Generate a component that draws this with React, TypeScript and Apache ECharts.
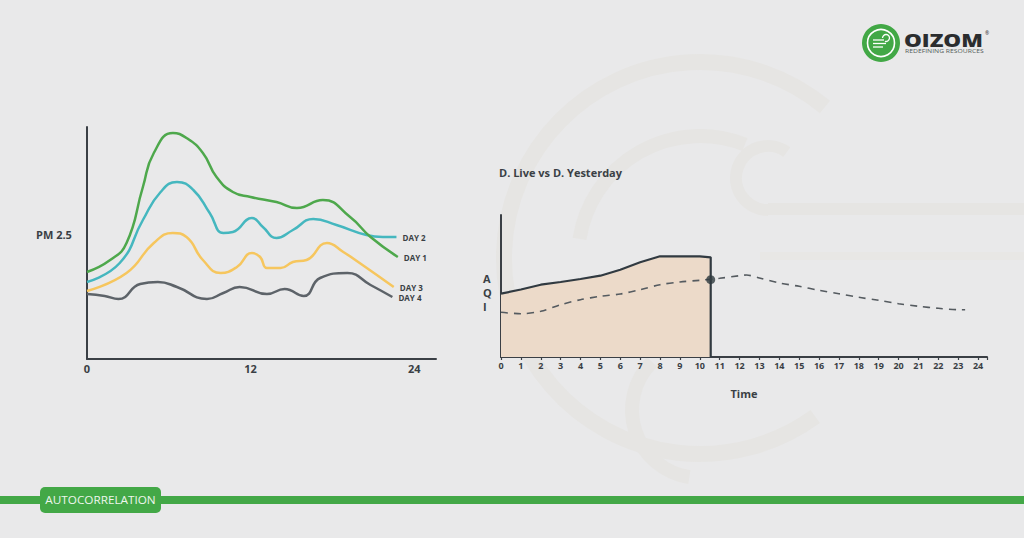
import React, { useEffect, useRef } from "react";
import * as echarts from "echarts";

// Left chart: PM 2.5 by hour, four days
const leftTicks = [0, 12, 24];
const day1: number[][] = [[0, 87], [1.7, 99], [2.9, 116], [4.1, 172], [4.9, 206], [6.3, 226], [7.3, 221], [8.5, 206], [9.5, 182], [10.7, 167], [12, 162], [13.9, 157], [15.4, 151], [17.3, 159], [19.3, 142], [20.8, 122], [22.8, 102]];
const day2: number[][] = [[0, 77], [2.4, 96], [4.1, 139], [5.4, 167], [6.6, 177], [7.8, 169], [9, 146], [10, 126], [10.7, 127], [12.1, 141], [12.9, 132], [13.9, 121], [15.1, 129], [16.6, 140], [18.3, 134], [20.5, 124], [21.7, 122], [22.7, 122]];
const day3: number[][] = [[0, 68], [2.9, 86], [4.9, 116], [6.3, 126], [7.3, 122], [8.5, 99], [9.8, 86], [11, 92], [12.1, 106], [12.7, 102], [13.2, 91], [14.2, 91], [15.1, 97], [16.1, 99], [17.6, 116], [18.8, 107], [20, 96], [22.5, 72]];
const day4: number[][] = [[0, 65], [1.3, 63], [2.3, 60], [3.9, 75], [5.2, 77], [6.6, 72], [8.8, 60], [10, 66], [11.2, 72], [13.2, 65], [14.5, 70], [15.9, 63], [17.1, 81], [19.1, 86], [20.8, 74], [22.4, 62]];
const dayNames = ["DAY 1", "DAY 2", "DAY 3", "DAY 4"];

// Right chart: AQI live vs yesterday
const liveAqi: number[][] = [[0, 63.3], [1, 67.5], [2, 72.3], [3, 75], [4, 78], [5, 81.3], [6, 87.3], [7, 94.7], [8, 100.7], [9, 100.7], [10, 100.7], [10.55, 99.7], [10.55, 0]];
const yesterdayAqi: number[][] = [[0, 44.7], [1, 43.3], [2, 45.7], [3, 52.3], [4, 57.3], [5, 60.7], [6, 63], [7, 67.3], [8, 72.3], [9, 75], [10, 76.7], [11, 78.7], [12, 81.3], [12.35, 82], [13, 79], [14, 74], [15, 70.7], [16, 66.7], [17, 63.3], [18, 59.7], [19, 56.7], [20, 53.3], [21, 50.7], [22, 48.7], [23, 47.3], [23.35, 47.3]];
const nowPoint: number[][] = [[10.55, 77.3]];

const FONT = "'Open Sans', 'DejaVu Sans', sans-serif";
const DARK = "#3a3f45";

export default function App() {
  const ref = useRef<HTMLDivElement>(null);
  useEffect(() => {
    document.body.style.margin = "0";
    const chart = echarts.init(ref.current!, null, { renderer: "svg" });
    const faint = "#e6e5e3";
    const option: any = {
      animation: false,
      backgroundColor: "#e9e9ea",
      textStyle: { fontFamily: FONT },
      title: {
        text: "D. Live vs D. Yesterday",
        left: 494,
        top: 162,
        textStyle: { fontFamily: FONT, fontSize: 11, fontWeight: 700, color: DARK },
      },
      grid: [
        { left: 87, top: 127, width: 349, height: 232 },
        { left: 501, top: 215, width: 486, height: 142 },
      ],
      xAxis: [
        {
          gridIndex: 0, type: "value", min: 0, max: 25.6, interval: 12,
          axisLine: { lineStyle: { color: DARK, width: 2 } },
          axisTick: { show: false },
          splitLine: { show: false },
          axisLabel: {
            margin: 4, fontSize: 11, fontWeight: 700, color: DARK, fontFamily: FONT,
            formatter: (v: number) => (leftTicks.includes(v) ? String(v) : ""),
          },
        },
        {
          gridIndex: 1, type: "value", min: 0, max: 24.45, interval: 1,
          axisLine: { lineStyle: { color: DARK, width: 2 } },
          axisTick: { show: true, length: 3, lineStyle: { color: DARK, width: 1.2 } },
          splitLine: { show: false },
          axisLabel: {
            margin: 4, fontSize: 9, fontWeight: 700, color: DARK, fontFamily: FONT,
            formatter: (v: number) => (Number.isInteger(v) ? String(v) : ""),
          },
          name: "Time", nameLocation: "middle", nameGap: 31,
          nameTextStyle: { fontSize: 11, fontWeight: 700, color: DARK, fontFamily: FONT },
        },
      ],
      yAxis: [
        {
          gridIndex: 0, type: "value", min: 0, max: 232,
          axisLine: { show: true, lineStyle: { color: DARK, width: 2 } },
          axisTick: { show: false }, axisLabel: { show: false }, splitLine: { show: false },
        },
        {
          gridIndex: 1, type: "value", min: 0, max: 142,
          axisLine: { show: true, lineStyle: { color: DARK, width: 2 } },
          axisTick: { show: false }, axisLabel: { show: false }, splitLine: { show: false },
        },
      ],
      series: [
        ...[day1, day2, day3, day4].map((d, i) => ({
          type: "line",
          name: dayNames[i],
          xAxisIndex: 0, yAxisIndex: 0,
          data: d, smooth: 0.5, showSymbol: false,
          lineStyle: { width: 2.5, color: ["#4ea84c", "#45b7bf", "#f6c65e", "#5d6369"][i] },
          endLabel: {
            show: true, formatter: dayNames[i], distance: 6,
            fontSize: 8, fontWeight: 700, color: DARK, fontFamily: FONT,
          },
          z: [5, 4, 3, 2][i],
        })),
        {
          type: "line", name: "Live", xAxisIndex: 1, yAxisIndex: 1,
          data: liveAqi, smooth: false, showSymbol: false,
          lineStyle: { width: 2.2, color: "#313a41" },
          areaStyle: { color: "#ecdac9", opacity: 1 },
          z: 2,
        },
        {
          type: "line", name: "Yesterday", xAxisIndex: 1, yAxisIndex: 1,
          data: yesterdayAqi, smooth: 0.3, showSymbol: false,
          lineStyle: { width: 1.6, color: "#555b60", type: [7, 6] },
          z: 3,
        },
        {
          type: "scatter", xAxisIndex: 1, yAxisIndex: 1,
          data: nowPoint, symbolSize: 9,
          itemStyle: { color: "#2f3b40" }, z: 6,
        },
      ],
      graphic: [
        // faint watermark
        { type: "arc", z: -10, silent: true, shape: { cx: 700, cy: 258, r: 196, startAngle: Math.PI * 0.3, endAngle: Math.PI * 1.72, clockwise: true }, style: { stroke: faint, lineWidth: 16, fill: "none" } },
        { type: "arc", z: -10, silent: true, shape: { cx: 700, cy: 258, r: 122, startAngle: Math.PI * 1.05, endAngle: Math.PI * 1.62, clockwise: true }, style: { stroke: faint, lineWidth: 14, fill: "none" } },
        { type: "arc", z: -10, silent: true, shape: { cx: 768, cy: 178, r: 32, startAngle: Math.PI * 0.5, endAngle: Math.PI * 1.7, clockwise: true }, style: { stroke: faint, lineWidth: 12, fill: "none" } },
        { type: "rect", z: -10, silent: true, shape: { x: 768, y: 203, width: 256, height: 12 }, style: { fill: faint } },
        { type: "rect", z: -10, silent: true, shape: { x: 760, y: 252, width: 264, height: 8 }, style: { fill: "#e8e7e5" } },
        { type: "arc", z: -10, silent: true, shape: { cx: 700, cy: 410, r: 68, startAngle: Math.PI * 0.55, endAngle: Math.PI * 1.25, clockwise: true }, style: { stroke: faint, lineWidth: 14, fill: "none" } },
        // axis names
        { type: "text", left: 36, top: 229, style: { text: "PM 2.5", font: `700 11px ${FONT}`, fill: DARK } },
        { type: "text", left: 483, top: 271, style: { text: "A\nQ\nI", font: `700 11px ${FONT}`, fill: DARK, lineHeight: 14, align: "center" } },
        // bottom bar
        { type: "rect", z: 1, shape: { x: 0, y: 496, width: 1024, height: 8 }, style: { fill: "#43a847" } },
        { type: "rect", z: 2, shape: { x: 40, y: 487, width: 121, height: 26, r: 5 }, style: { fill: "#43a847" } },
        { type: "text", z: 3, x: 100.5, y: 500, scaleX: 1.12, style: { text: "AUTOCORRELATION", font: `400 10.5px ${FONT}`, fill: "#eef6ee", align: "center", verticalAlign: "middle" } },
        // logo
        { type: "circle", z: 2, shape: { cx: 881, cy: 43, r: 19 }, style: { fill: "#42a846" } },
        { type: "circle", z: 3, shape: { cx: 881, cy: 43, r: 13.5 }, style: { fill: "none", stroke: "#ffffff", lineWidth: 1.6 } },
        { type: "line", z: 3, shape: { x1: 873, y1: 40, x2: 884, y2: 40 }, style: { stroke: "#ffffff", lineWidth: 1.3 } },
        { type: "line", z: 3, shape: { x1: 873, y1: 43.5, x2: 886, y2: 43.5 }, style: { stroke: "#ffffff", lineWidth: 1.3 } },
        { type: "line", z: 3, shape: { x1: 873, y1: 47, x2: 883, y2: 47 }, style: { stroke: "#ffffff", lineWidth: 1.3 } },
        { type: "arc", z: 3, shape: { cx: 886, cy: 38, r: 3.5, startAngle: Math.PI, endAngle: Math.PI * 2.6, clockwise: true }, style: { stroke: "#ffffff", lineWidth: 1.3, fill: "none" } },
        { type: "text", z: 3, x: 904, y: 32, scaleX: 1.32, style: { text: "OIZOM", font: `800 17px ${FONT}`, fill: "#2b2d2f" } },
        { type: "text", z: 3, x: 985, y: 30, style: { text: "®", font: `400 5px ${FONT}`, fill: "#2b2d2f" } },
        { type: "text", z: 3, x: 905, y: 49, scaleX: 1.36, style: { text: "REDEFINING RESOURCES", font: `500 5px ${FONT}`, fill: "#55605a" } },
      ],
    };
    chart.setOption(option);
    return () => chart.dispose();
  }, []);
  return <div ref={ref} style={{ position: "fixed", left: 0, top: 0, width: 1024, height: 538 }} />;
}
